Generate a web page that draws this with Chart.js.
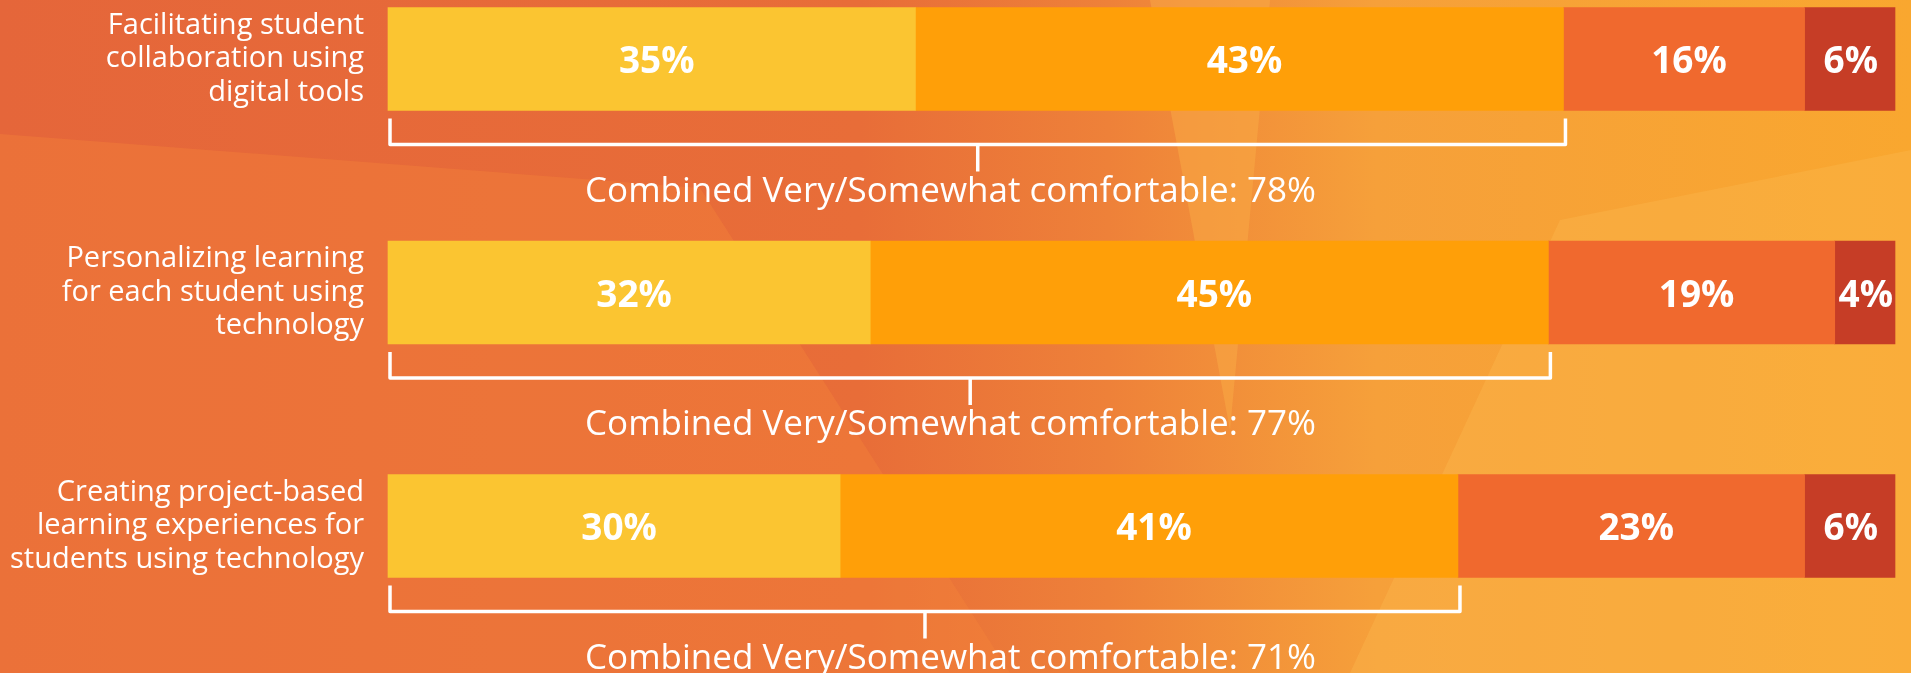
<!DOCTYPE html>
<html>
<head>
<meta charset="utf-8">
<title>Comfort with technology</title>
<script src="https://cdn.jsdelivr.net/npm/chart.js@4.4.1/dist/chart.umd.min.js"></script>
<style>
  html, body { margin: 0; padding: 0; }
  body {
    width: 1911px; height: 673px; overflow: hidden; position: relative;
    background: linear-gradient(90deg, #e5663a 0%, #e86d38 45%, #ee8139 58%, #f6a03a 72%, #f9a72f 100%);
  }
  .shape { position: absolute; left: 0; top: 0; width: 1911px; height: 673px; }
  /* soft facets in the backdrop */
  #s1 { background: rgba(246, 135, 58, 0.35); clip-path: polygon(0 134px, 700px 188px, 1010px 673px, 0 673px); }
  #s2 { background: rgba(250, 175, 70, 0.45); clip-path: polygon(1150px 0, 1270px 0, 1230px 430px); }
  #s3 { background: rgba(252, 185, 80, 0.35); clip-path: polygon(1350px 673px, 1560px 220px, 1911px 150px, 1911px 673px); }
  #wrap { position: absolute; left: 0; top: 0; width: 1911px; height: 673px; }
</style>
</head>
<body>
<div class="shape" id="s1"></div>
<div class="shape" id="s2"></div>
<div class="shape" id="s3"></div>
<div id="wrap"><canvas id="comfortChart"></canvas></div>
<script>
// categories (multi-line labels) and series values
const categories = [
  ['Facilitating student', 'collaboration using', 'digital tools'],
  ['Personalizing learning', 'for each student using', 'technology'],
  ['Creating project-based', 'learning experiences for', 'students using technology']
];
const veryComfortable = [35, 32, 30];
const somewhatComfortable = [43, 45, 41];
const notVeryComfortable = [16, 19, 23];
const notAtAllComfortable = [6, 4, 6];
const combinedComfortable = [78, 77, 71];

const seriesNames = ['Very comfortable', 'Somewhat comfortable', 'Not very comfortable', 'Not at all comfortable'];
const seriesColors = ['#fbc531', '#ff9f08', '#f0692e', '#c63d26'];
const barThickness = 103;
const fontFamily = '"Open Sans", sans-serif';

// white percentage inside each segment
const segmentLabels = {
  id: 'segmentLabels',
  afterDatasetsDraw(chart) {
    const ctx = chart.ctx;
    ctx.save();
    ctx.fillStyle = '#fff';
    ctx.font = 'bold 37px ' + fontFamily;
    ctx.textAlign = 'center';
    ctx.textBaseline = 'alphabetic';
    chart.data.datasets.forEach((ds, di) => {
      chart.getDatasetMeta(di).data.forEach((bar, i) => {
        const w = Math.abs(bar.x - bar.base);
        const nudge = w > 150 ? 5 : 1;
        ctx.fillText(ds.data[i] + '%', (bar.x + bar.base) / 2 + nudge, bar.y + 14);
      });
    });
    ctx.restore();
  }
};

// bracket under the first two segments + combined text
const brackets = {
  id: 'brackets',
  afterDraw(chart) {
    const ctx = chart.ctx;
    const x = chart.scales.x;
    ctx.save();
    ctx.strokeStyle = '#fff';
    ctx.fillStyle = '#fff';
    ctx.lineWidth = 3.5;
    ctx.lineJoin = 'round';
    ctx.font = '35px ' + fontFamily;
    ctx.textAlign = 'center';
    chart.getDatasetMeta(0).data.forEach((bar, i) => {
      const bottom = bar.y + barThickness / 2;
      const x0 = x.getPixelForValue(0) + 2;
      const x1 = x.getPixelForValue(combinedComfortable[i]) + 2;
      const mid = bottom + 34;
      ctx.beginPath();
      ctx.moveTo(x0, bottom + 8);
      ctx.lineTo(x0, mid);
      ctx.lineTo(x1, mid);
      ctx.lineTo(x1, bottom + 8);
      ctx.moveTo((x0 + x1) / 2, mid);
      ctx.lineTo((x0 + x1) / 2, bottom + 61);
      ctx.stroke();
      ctx.fillText('Combined Very/Somewhat comfortable: ' + combinedComfortable[i] + '%', chart.width / 2 - 5, bottom + 91);
    });
    ctx.restore();
  }
};

const seriesData = [veryComfortable, somewhatComfortable, notVeryComfortable, notAtAllComfortable];

const ctx = document.getElementById('comfortChart').getContext('2d');
const comfortChart = new Chart(ctx, {
  type: 'bar',
  data: {
    labels: categories,
    datasets: seriesData.map((d, i) => ({
      label: seriesNames[i],
      data: d,
      backgroundColor: seriesColors[i],
      borderWidth: 0,
      barThickness: barThickness,
      clip: false
    }))
  },
  options: {
    indexAxis: 'y',
    responsive: true,
    maintainAspectRatio: false,
    animation: false,
    layout: { padding: { top: 59, bottom: 147, left: 0, right: 16 } },
    plugins: {
      legend: { display: false },
      tooltip: { enabled: false }
    },
    scales: {
      x: { stacked: true, min: 0, max: 100, display: false },
      y: {
        stacked: true,
        offset: false,
        grid: { display: false, drawTicks: false },
        border: { display: false },
        afterFit(scale) {
          scale.width = 388;
          scale.paddingTop = 0;
          scale.paddingBottom = 0;
        },
        ticks: {
          autoSkip: false,
          color: '#fff',
          padding: 24,
          font: { family: fontFamily, size: 29, lineHeight: 1.16 }
        }
      }
    }
  },
  plugins: [segmentLabels, brackets]
});
</script>
</body>
</html>
